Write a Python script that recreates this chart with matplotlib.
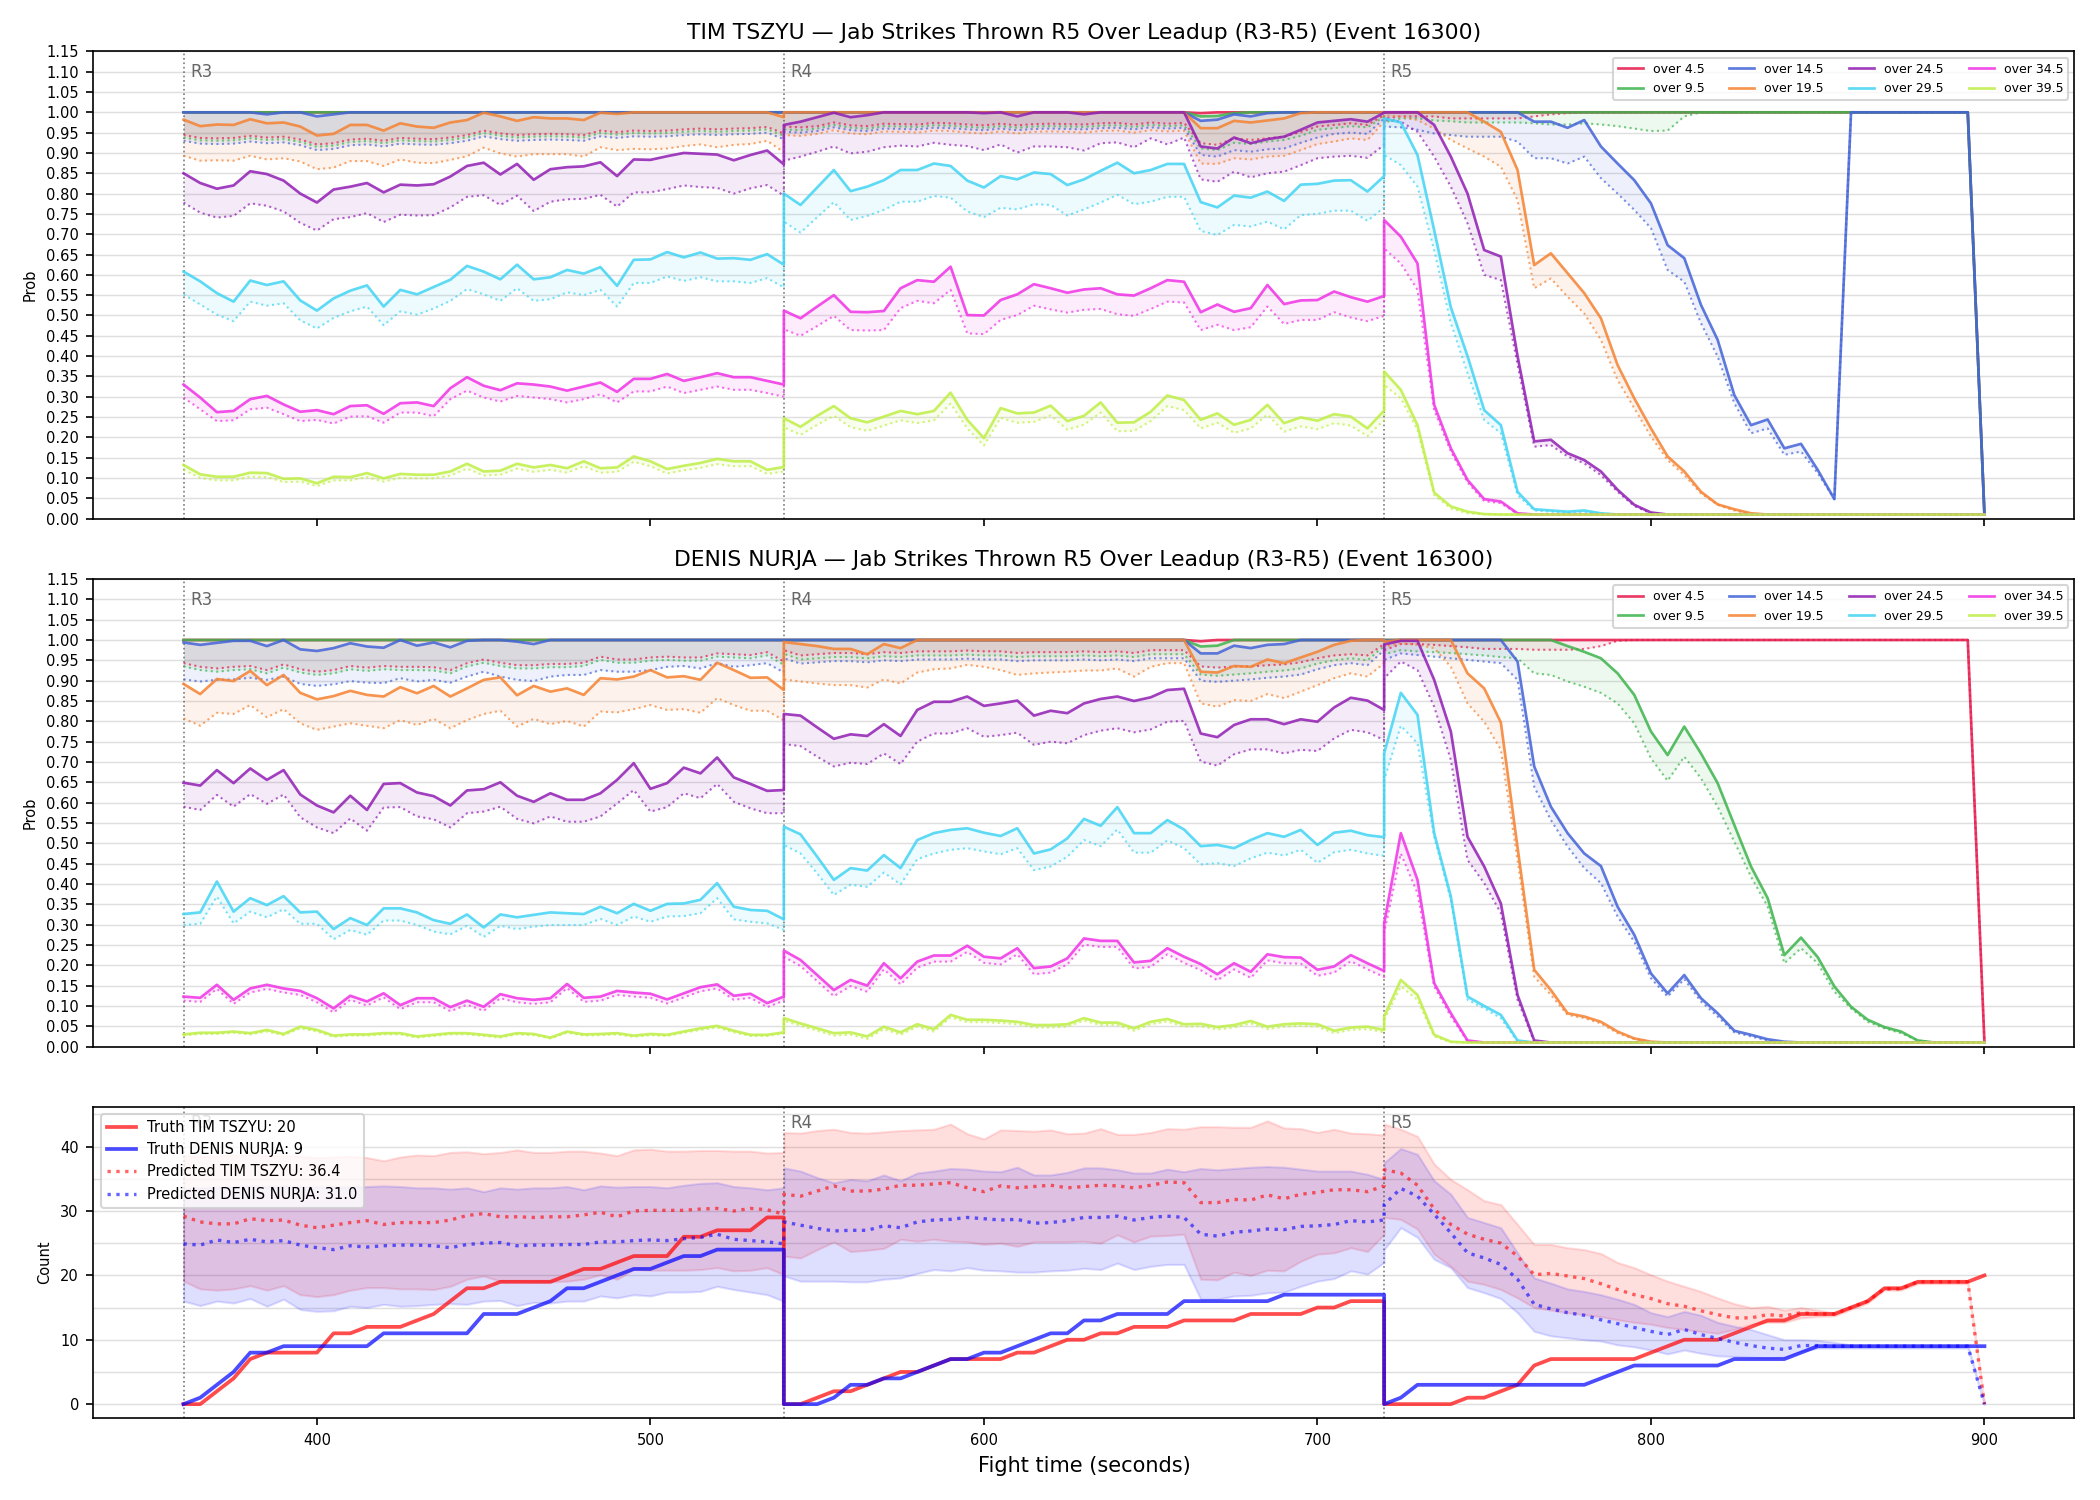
import numpy as np
import matplotlib
matplotlib.use("Agg")
import matplotlib.pyplot as plt
from matplotlib.transforms import blended_transform_factory
from matplotlib.ticker import MultipleLocator, FormatStrFormatter

# ---------------- time grid (3 rounds, 5 s steps, 37 points each) ----------------
round_starts = [360, 540, 720]
round_names = ["R3", "R4", "R5"]
round_offsets = list(range(0, 181, 5))
times = np.concatenate([np.array(round_offsets) + s for s in round_starts])

threshold_labels = ["over 4.5", "over 9.5", "over 14.5", "over 19.5",
                    "over 24.5", "over 29.5", "over 34.5", "over 39.5"]
threshold_colors = ["#e6194b", "#3cb44b", "#4363d8", "#f58231",
                    "#911eb4", "#42d4f4", "#f032e6", "#bfef45"]

# ================= TIM TSZYU (solid = live, dotted = base) =================
tszyu_o45_live = [
    1,1,1,1,1,1,1,1,1,1, 1,1,1,1,1,1,1,1,1,1, 1,1,1,1,1,1,1,1,1,1, 1,1,1,1,1,1,1,
    1,1,1,1,1,1,1,1,1,1, 1,1,1,1,1,1,1,1,1,1, 1,1,1,1,1, 0.998, 1,1,1,1,1,1,1,1,1,1,1,
    1,1,1,1,1,1,1,1,1,1, 1,1,1,1,1,1,1,1,1,1, 1,1,1,1,1,1,1,1,1,1, 1,1,1,1,1,1, 0.01]
tszyu_o45_base = [
    0.944,0.937,0.936,0.937,0.942,0.938,0.94,0.933,0.921,0.924,0.933,0.935,0.93,0.937,0.935,0.934,0.938,0.944,0.955,0.948,0.944,0.946,0.947,0.946,0.944,0.955,0.951,0.955,0.954,0.955,0.958,0.96,0.958,0.96,0.961,0.964,0.948,
    0.965,0.963,0.966,0.975,0.968,0.966,0.972,0.971,0.97,0.974,0.973,0.97,0.968,0.972,0.968,0.971,0.972,0.971,0.97,0.973,0.974,0.97,0.975,0.972,0.974,0.924,0.92,0.936,0.932,0.936,0.94,0.952,0.965,0.969,0.973,0.969,0.993,
    0.985,0.99,0.99,0.99,0.985,0.985,0.985,0.985,0.985,0.99,0.995,0.998, 1,1,1,1,1,1,1,1,1,1, 1,1,1,1,1,1,1,1,1,1, 1,1,1,1, 0.01]
tszyu_o95_live = [
    1,1,1,1,1,1,1,1,1,1, 1,1,1,1,1,1,1,1,1,1, 1,1,1,1,1,1,1,1,1,1, 1,1,1,1,1,1,1,
    1,1,1,1,1,1,1,1,1,1, 1,1,1,1,1,1,1,1,1,1, 1,1,1,1,1, 0.99,0.991,0.998, 1,1,1,1,1,1,1,1,1,
    1,1,1,1,1,1,1,1,1,1, 1,1,1,1,1,1,1,1,1,1, 1,1,1,1,1,1,1,1,1,1, 1,1,1,1,1,1, 0.01]
tszyu_o95_base = [
    0.938,0.931,0.93,0.931,0.936,0.932,0.934,0.927,0.915,0.918,0.927,0.929,0.924,0.931,0.929,0.928,0.932,0.938,0.949,0.942,0.938,0.94,0.941,0.94,0.938,0.949,0.945,0.949,0.948,0.949,0.952,0.954,0.952,0.954,0.955,0.958,0.942,
    0.958,0.956,0.96,0.969,0.962,0.96,0.966,0.965,0.964,0.968,0.967,0.964,0.962,0.966,0.962,0.965,0.966,0.965,0.964,0.967,0.968,0.964,0.969,0.966,0.968,0.911,0.907,0.925,0.922,0.928,0.932,0.942,0.957,0.961,0.966,0.963,0.989,
    0.975,0.985,0.985,0.98,0.978,0.975,0.975,0.975,0.975,0.973,0.97,0.97,0.973,0.97,0.966,0.96,0.954,0.955,0.99, 1,1,1,1,1,1,1,1,1,1, 1,1,1,1,1,1,1, 0.01]
tszyu_o145_live = [
    1,1,1,1,1,0.995,1,1,0.99,0.995, 1,1,1,1,1,1,1,1,1,1, 1,1,1,1,1,1,1,1,1,1, 1,1,1,1,1,1,1,
    1,1,1,1,1,1,1,1,1,1, 1,1,1,1,1,1,1,1,1,1, 1,1,1,1,1, 0.979,0.982,0.995,0.99,0.998, 1,1,1,1,1,1,1,
    1,1,1,1,1,1,1,1,1, 0.977,0.977,0.962,0.981,0.916,0.874,0.833,0.776,0.673,0.641,0.526,0.44,0.304,0.23,0.244,0.173,0.184,0.12,0.048, 1,1,1,1,1,1,1,1, 0.01]
tszyu_o145_base = [
    0.93,0.923,0.922,0.923,0.928,0.924,0.926,0.919,0.907,0.91,0.919,0.921,0.916,0.923,0.921,0.92,0.924,0.93,0.941,0.934,0.93,0.932,0.933,0.932,0.93,0.941,0.937,0.941,0.94,0.941,0.944,0.946,0.944,0.946,0.947,0.95,0.934,
    0.952,0.95,0.954,0.963,0.956,0.954,0.96,0.959,0.958,0.962,0.961,0.958,0.956,0.96,0.956,0.959,0.96,0.959,0.958,0.961,0.962,0.958,0.963,0.96,0.962,0.895,0.891,0.907,0.903,0.909,0.911,0.925,0.938,0.947,0.95,0.947,0.985,
    0.965,0.963,0.957,0.948,0.944,0.94,0.94,0.94,0.928,0.887,0.887,0.874,0.891,0.838,0.80,0.76,0.715,0.612,0.583,0.481,0.399,0.284,0.21,0.222,0.157,0.165,0.112,0.048, 1,1,1,1,1,1,1,1, 0.01]
tszyu_o195_live = [
    0.982,0.966,0.97,0.969,0.983,0.973,0.975,0.965,0.943,0.947,0.969,0.969,0.955,0.973,0.965,0.962,0.975,0.981,0.999,0.99,0.979,0.988,0.985,0.985,0.981,0.999,0.996, 1,1,1,1,1,1,1,1,1, 0.988,
    1,1,1,1,1,1,1,1,1,1, 1,1,1,1,1,1,1,1,1,1, 1,1,1,1,1, 0.961,0.961,0.979,0.975,0.98,0.985,0.998, 1,1,1,1,1,
    1,1,1,1,1,1, 0.977,0.952,0.858,0.624,0.653,0.604,0.555,0.493,0.378,0.296,0.222,0.153,0.116,0.066,0.035,0.023,0.013,
    0.01,0.01,0.01,0.01,0.01,0.01,0.01,0.01,0.01,0.01, 0.01,0.01,0.01,0.01]
tszyu_o195_base = [
    0.893,0.881,0.882,0.881,0.893,0.884,0.887,0.879,0.86,0.864,0.88,0.88,0.868,0.884,0.876,0.875,0.883,0.892,0.913,0.899,0.891,0.897,0.897,0.897,0.891,0.914,0.907,0.91,0.909,0.911,0.917,0.921,0.914,0.92,0.922,0.93,0.902,
    0.944,0.942,0.947,0.956,0.948,0.946,0.953,0.952,0.95,0.955,0.954,0.95,0.948,0.953,0.948,0.952,0.953,0.952,0.95,0.954,0.955,0.95,0.956,0.953,0.955,0.874,0.873,0.887,0.884,0.891,0.893,0.907,0.922,0.928,0.936,0.932,0.977,
    0.993,0.989,0.981,0.96,0.932,0.911,0.891,0.866,0.784,0.567,0.591,0.546,0.505,0.44,0.341,0.272,0.202,0.144,0.107,0.062,0.034,0.02,0.011,
    0.01,0.01,0.01,0.01,0.01,0.01,0.01,0.01,0.01,0.01, 0.01,0.01,0.01,0.01]
tszyu_o245_live = [
    0.85,0.826,0.812,0.82,0.855,0.848,0.832,0.80,0.778,0.81,0.817,0.826,0.803,0.822,0.82,0.823,0.842,0.868,0.876,0.847,0.873,0.834,0.86,0.865,0.867,0.877,0.843,0.884,0.883,0.892,0.90,0.898,0.896,0.882,0.895,0.906,0.872,
    0.969,0.977,0.988,0.999,0.988,0.993,1,1,1,1,1,1,0.998,1,0.99,1,1,1,0.995,1,1,1,1,1,1,0.916,0.911,0.938,0.924,0.934,0.94,0.957,0.975,0.979,0.983,0.977,0.999,
    1,1,1,0.969,0.891,0.80,0.661,0.645,0.40,0.19,0.194,0.161,0.144,0.116,0.071,0.034,0.015,
    0.01,0.01,0.01,0.01,0.01,0.01,0.01,0.01,0.01,0.01, 0.01,0.01,0.01,0.01,0.01,0.01,0.01,0.01,0.01,0.01]
tszyu_o245_base = [
    0.778,0.753,0.741,0.745,0.776,0.77,0.756,0.728,0.709,0.737,0.742,0.752,0.73,0.748,0.746,0.747,0.766,0.792,0.796,0.772,0.795,0.757,0.78,0.786,0.787,0.797,0.768,0.803,0.803,0.811,0.82,0.816,0.814,0.80,0.813,0.821,0.795,
    0.881,0.891,0.903,0.916,0.899,0.903,0.914,0.918,0.916,0.925,0.92,0.917,0.907,0.921,0.901,0.916,0.916,0.914,0.906,0.924,0.926,0.914,0.936,0.921,0.938,0.835,0.829,0.854,0.84,0.85,0.854,0.87,0.887,0.891,0.893,0.888,0.92,
    0.981,0.977,0.952,0.891,0.817,0.727,0.60,0.587,0.38,0.177,0.181,0.153,0.136,0.107,0.066,0.031,0.013,
    0.01,0.01,0.01,0.01,0.01,0.01,0.01,0.01,0.01,0.01, 0.01,0.01,0.01,0.01,0.01,0.01,0.01,0.01,0.01,0.01]
tszyu_o295_live = [
    0.608,0.584,0.555,0.534,0.586,0.575,0.584,0.537,0.512,0.542,0.561,0.574,0.522,0.563,0.552,0.57,0.588,0.622,0.608,0.589,0.625,0.589,0.594,0.612,0.603,0.619,0.573,0.637,0.638,0.656,0.643,0.655,0.64,0.641,0.637,0.651,0.625,
    0.80,0.772,0.815,0.858,0.806,0.817,0.833,0.858,0.858,0.874,0.868,0.832,0.815,0.843,0.835,0.852,0.848,0.821,0.835,0.856,0.876,0.85,0.858,0.873,0.873,0.779,0.766,0.795,0.79,0.805,0.782,0.822,0.824,0.832,0.833,0.805,0.843,
    0.985,0.975,0.895,0.71,0.52,0.40,0.267,0.23,0.066,0.023,0.02,0.017,0.02,0.013,
    0.01,0.01,0.01,0.01,0.01,0.01,0.01,0.01,0.01,0.01, 0.01,0.01,0.01,0.01,0.01,0.01,0.01,0.01,0.01,0.01, 0.01,0.01,0.01]
tszyu_o295_base = [
    0.552,0.527,0.502,0.486,0.534,0.524,0.53,0.488,0.468,0.494,0.51,0.522,0.476,0.51,0.502,0.517,0.536,0.565,0.552,0.536,0.567,0.536,0.54,0.557,0.55,0.563,0.522,0.58,0.58,0.596,0.585,0.594,0.584,0.584,0.58,0.592,0.569,
    0.731,0.704,0.742,0.779,0.735,0.745,0.76,0.78,0.78,0.794,0.79,0.756,0.742,0.765,0.761,0.774,0.772,0.746,0.761,0.778,0.797,0.774,0.78,0.792,0.792,0.708,0.698,0.723,0.719,0.731,0.712,0.747,0.75,0.758,0.758,0.733,0.766,
    0.895,0.87,0.817,0.661,0.481,0.358,0.243,0.21,0.058,0.02,0.017,0.015,0.016,0.012,
    0.01,0.01,0.01,0.01,0.01,0.01,0.01,0.01,0.01,0.01, 0.01,0.01,0.01,0.01,0.01,0.01,0.01,0.01,0.01,0.01, 0.01,0.01,0.01]
tszyu_o345_live = [
    0.33,0.298,0.262,0.265,0.294,0.302,0.281,0.263,0.267,0.257,0.277,0.279,0.258,0.284,0.286,0.277,0.321,0.348,0.327,0.316,0.333,0.33,0.325,0.315,0.325,0.335,0.312,0.344,0.344,0.356,0.339,0.348,0.358,0.348,0.348,0.339,0.33,
    0.512,0.493,0.522,0.55,0.509,0.508,0.511,0.567,0.587,0.583,0.62,0.501,0.50,0.538,0.552,0.577,0.567,0.556,0.564,0.567,0.552,0.549,0.567,0.587,0.583,0.508,0.527,0.509,0.518,0.575,0.528,0.537,0.538,0.559,0.545,0.534,0.548,
    0.735,0.694,0.628,0.28,0.173,0.095,0.048,0.042,0.013,
    0.01,0.01,0.01,0.01,0.01,0.01,0.01,0.01,0.01,0.01, 0.01,0.01,0.01,0.01,0.01,0.01,0.01,0.01,0.01,0.01, 0.01,0.01,0.01,0.01,0.01,0.01,0.01,0.01]
tszyu_o345_base = [
    0.298,0.269,0.24,0.242,0.269,0.273,0.257,0.24,0.243,0.234,0.251,0.252,0.236,0.261,0.261,0.252,0.294,0.315,0.298,0.288,0.302,0.298,0.294,0.286,0.294,0.306,0.286,0.313,0.313,0.325,0.309,0.317,0.325,0.317,0.317,0.309,0.30,
    0.466,0.45,0.474,0.499,0.464,0.463,0.464,0.518,0.536,0.53,0.563,0.456,0.454,0.489,0.501,0.524,0.515,0.507,0.514,0.516,0.503,0.499,0.516,0.534,0.532,0.464,0.477,0.464,0.471,0.522,0.479,0.489,0.489,0.508,0.495,0.486,0.499,
    0.665,0.628,0.563,0.267,0.165,0.089,0.043,0.038,0.011,
    0.01,0.01,0.01,0.01,0.01,0.01,0.01,0.01,0.01,0.01, 0.01,0.01,0.01,0.01,0.01,0.01,0.01,0.01,0.01,0.01, 0.01,0.01,0.01,0.01,0.01,0.01,0.01,0.01]
tszyu_o395_live = [
    0.132,0.109,0.103,0.103,0.113,0.112,0.098,0.099,0.087,0.103,0.102,0.112,0.099,0.11,0.108,0.108,0.116,0.135,0.116,0.118,0.135,0.126,0.132,0.124,0.141,0.124,0.126,0.153,0.141,0.122,0.13,0.137,0.147,0.141,0.141,0.12,0.127,
    0.247,0.226,0.253,0.277,0.247,0.237,0.251,0.265,0.257,0.265,0.31,0.243,0.198,0.272,0.259,0.261,0.278,0.24,0.253,0.286,0.236,0.237,0.263,0.303,0.292,0.243,0.259,0.231,0.243,0.28,0.235,0.249,0.241,0.257,0.251,0.222,0.266,
    0.362,0.317,0.23,0.064,0.03,0.017,0.011,
    0.01,0.01,0.01,0.01,0.01,0.01,0.01,0.01,0.01,0.01, 0.01,0.01,0.01,0.01,0.01,0.01,0.01,0.01,0.01,0.01, 0.01,0.01,0.01,0.01,0.01,0.01,0.01,0.01,0.01,0.01]
tszyu_o395_base = [
    0.12,0.1,0.094,0.094,0.103,0.102,0.09,0.091,0.08,0.094,0.094,0.102,0.091,0.1,0.099,0.099,0.106,0.123,0.106,0.108,0.123,0.115,0.12,0.113,0.129,0.113,0.115,0.14,0.129,0.111,0.119,0.125,0.134,0.129,0.129,0.11,0.116,
    0.225,0.206,0.231,0.253,0.225,0.216,0.229,0.242,0.235,0.242,0.283,0.222,0.18,0.248,0.236,0.238,0.254,0.219,0.231,0.261,0.215,0.216,0.24,0.277,0.267,0.222,0.236,0.211,0.222,0.256,0.214,0.227,0.22,0.235,0.229,0.203,0.243,
    0.329,0.296,0.218,0.058,0.025,0.013,0.011,
    0.01,0.01,0.01,0.01,0.01,0.01,0.01,0.01,0.01,0.01, 0.01,0.01,0.01,0.01,0.01,0.01,0.01,0.01,0.01,0.01, 0.01,0.01,0.01,0.01,0.01,0.01,0.01,0.01,0.01,0.01]

# ================= DENIS NURJA =================
nurja_o45_live = [
    1,1,1,1,1,1,1,1,1,1, 1,1,1,1,1,1,1,1,1,1, 1,1,1,1,1,1,1,1,1,1, 1,1,1,1,1,1,1,
    1,1,1,1,1,1,1,1,1,1, 1,1,1,1,1,1,1,1,1,1, 1,1,1,1,1, 0.997, 1,1,1,1,1,1,1,1,1,1,1,
    1,1,1,1,1,1,1,1,1,1, 1,1,1,1,1,1,1,1,1,1, 1,1,1,1,1,1,1,1,1,1, 1,1,1,1,1,1, 0.01]
nurja_o45_base = [
    0.943,0.934,0.93,0.934,0.936,0.926,0.94,0.928,0.922,0.926,0.936,0.932,0.936,0.934,0.934,0.933,0.926,0.943,0.952,0.944,0.938,0.938,0.941,0.941,0.944,0.959,0.952,0.952,0.957,0.959,0.957,0.957,0.967,0.965,0.963,0.97,0.947,
    0.975,0.962,0.965,0.968,0.968,0.965,0.97,0.968,0.972,0.972,0.972,0.974,0.972,0.972,0.968,0.97,0.97,0.97,0.972,0.97,0.972,0.968,0.975,0.975,0.975,0.935,0.932,0.935,0.935,0.938,0.94,0.945,0.955,0.962,0.965,0.962,0.99,
    0.975,0.99,0.99,0.988,0.985,0.982,0.978,0.978,0.978,0.976,0.976,0.976,0.978,0.985,0.998, 1,1,1,1,1,1,1,1,1,1, 1,1,1,1,1,1,1,1,1,1, 1, 0.01]
nurja_o95_live = [
    1,1,1,1,1,1,1,1,1,1, 1,1,1,1,1,1,1,1,1,1, 1,1,1,1,1,1,1,1,1,1, 1,1,1,1,1,1,1,
    1,1,1,1,1,1,1,1,1,1, 1,1,1,1,1,1,1,1,1,1, 1,1,1,1,1, 0.984,0.986, 1,1,1,1,1,1,1,1,1,1,
    1,1,1,1,1,1,1,1,1,1,1, 0.985,0.971,0.955,0.918,0.865,0.775,0.717,0.787,0.721,0.648,0.545,0.443,0.365,0.225,0.268,0.22,0.148,0.098,0.066,0.048,0.037,0.015, 0.01,0.01,0.01,0.01]
nurja_o95_base = [
    0.935,0.926,0.922,0.926,0.928,0.918,0.932,0.92,0.914,0.918,0.928,0.924,0.928,0.926,0.926,0.925,0.918,0.935,0.944,0.936,0.93,0.93,0.933,0.933,0.936,0.951,0.944,0.944,0.949,0.951,0.949,0.949,0.959,0.957,0.955,0.962,0.939,
    0.966,0.952,0.955,0.958,0.958,0.955,0.96,0.958,0.962,0.962,0.962,0.964,0.962,0.962,0.958,0.96,0.96,0.96,0.962,0.96,0.962,0.958,0.965,0.965,0.965,0.915,0.912,0.915,0.918,0.922,0.925,0.93,0.942,0.95,0.955,0.95,0.985,
    0.965,0.975,0.972,0.97,0.968,0.965,0.962,0.958,0.955,0.918,0.914,0.898,0.885,0.87,0.844,0.795,0.709,0.654,0.713,0.66,0.59,0.504,0.418,0.344,0.205,0.242,0.205,0.135,0.094,0.061,0.045,0.033,0.015, 0.01,0.01,0.01,0.01]
nurja_o145_live = [
    0.994,0.988,0.993,0.998,0.998,0.985,1,0.977,0.973,0.98,0.992,0.984,0.981,1,0.986,0.994,0.982,0.998,1,1,0.996,0.99, 1,1,1,1,1,1,1,1,1,1, 1,1,1,1,1,
    1,1,1,1,1,1,1,1,1,1, 1,1,1,1,1,1,1,1,1,1, 1,1,1,1,1, 0.967,0.967,0.986,0.98,0.988,0.99, 1,1,1,1,1,1,
    0.998, 1,1,1,1,1,1,1, 0.947,0.689,0.59,0.525,0.475,0.444,0.344,0.275,0.18,0.131,0.176,0.119,0.082,0.039,0.029,0.018,0.012,
    0.01,0.01,0.01,0.01,0.01,0.01,0.01,0.01,0.01,0.01, 0.01,0.01]
nurja_o145_base = [
    0.903,0.898,0.902,0.903,0.907,0.902,0.91,0.892,0.887,0.891,0.899,0.895,0.894,0.906,0.898,0.902,0.895,0.91,0.922,0.91,0.902,0.899,0.91,0.914,0.914,0.926,0.922,0.922,0.926,0.934,0.936,0.93,0.943,0.934,0.938,0.943,0.92,
    0.955,0.942,0.945,0.948,0.948,0.945,0.95,0.948,0.952,0.952,0.952,0.954,0.952,0.952,0.948,0.95,0.95,0.95,0.952,0.95,0.952,0.948,0.955,0.955,0.955,0.9,0.897,0.9,0.903,0.907,0.91,0.915,0.928,0.938,0.943,0.938,0.975,
    0.951,0.967,0.963,0.959,0.955,0.951,0.947,0.943,0.902,0.639,0.557,0.492,0.439,0.402,0.32,0.258,0.168,0.123,0.166,0.111,0.074,0.035,0.025,0.015,
    0.01,0.01,0.01,0.01,0.01,0.01,0.01,0.01,0.01,0.01, 0.01,0.01,0.01]
nurja_o195_live = [
    0.892,0.867,0.904,0.899,0.924,0.889,0.914,0.87,0.854,0.862,0.875,0.865,0.861,0.884,0.869,0.887,0.861,0.881,0.902,0.908,0.864,0.887,0.873,0.881,0.865,0.906,0.903,0.91,0.926,0.908,0.911,0.902,0.944,0.926,0.907,0.908,0.877,
    0.995,0.99,0.985,0.978,0.978,0.965,0.99,0.98, 1,1,1,1,1,1,1,1,1,1, 1,1,1,1,1,1,1, 0.922,0.92,0.936,0.934,0.952,0.943,0.957,0.971,0.988,0.998,1,1,
    0.996,1,1,1,1,0.918,0.881,0.797,0.49,0.189,0.139,0.082,0.074,0.061,0.037,0.02,0.012,
    0.01,0.01,0.01,0.01,0.01,0.01,0.01,0.01,0.01,0.01, 0.01,0.01,0.01,0.01,0.01,0.01,0.01,0.01,0.01,0.01]
nurja_o195_base = [
    0.807,0.789,0.821,0.818,0.84,0.81,0.83,0.795,0.779,0.787,0.795,0.789,0.783,0.803,0.791,0.806,0.783,0.803,0.818,0.826,0.787,0.806,0.793,0.801,0.787,0.824,0.822,0.83,0.84,0.828,0.83,0.821,0.857,0.84,0.826,0.826,0.802,
    0.903,0.898,0.893,0.889,0.889,0.883,0.903,0.893,0.92,0.928,0.93,0.939,0.934,0.926,0.914,0.918,0.92,0.922,0.925,0.925,0.93,0.91,0.934,0.943,0.943,0.844,0.836,0.852,0.85,0.867,0.857,0.873,0.889,0.906,0.918,0.91,0.943,
    0.984,0.992,0.988,0.98,0.934,0.844,0.799,0.73,0.459,0.172,0.127,0.078,0.07,0.057,0.033,0.019,0.011,
    0.01,0.01,0.01,0.01,0.01,0.01,0.01,0.01,0.01,0.01, 0.01,0.01,0.01,0.01,0.01,0.01,0.01,0.01,0.01,0.01]
nurja_o245_live = [
    0.649,0.642,0.68,0.648,0.684,0.656,0.68,0.62,0.593,0.576,0.617,0.582,0.646,0.648,0.625,0.616,0.593,0.63,0.633,0.65,0.617,0.602,0.623,0.607,0.607,0.623,0.656,0.697,0.634,0.648,0.686,0.672,0.711,0.662,0.646,0.629,0.631,
    0.818,0.814,0.785,0.757,0.768,0.764,0.793,0.764,0.828,0.848,0.848,0.861,0.838,0.844,0.851,0.814,0.826,0.82,0.844,0.855,0.861,0.85,0.859,0.877,0.88,0.77,0.761,0.791,0.805,0.805,0.793,0.805,0.799,0.834,0.858,0.851,0.828,
    0.989,0.998,0.998,0.902,0.775,0.516,0.443,0.352,0.127,0.015,
    0.01,0.01,0.01,0.01,0.01,0.01,0.01,0.01,0.01,0.01, 0.01,0.01,0.01,0.01,0.01,0.01,0.01,0.01,0.01,0.01, 0.01,0.01,0.01,0.01,0.01,0.01,0.01]
nurja_o245_base = [
    0.59,0.582,0.619,0.59,0.621,0.597,0.62,0.564,0.539,0.525,0.561,0.531,0.588,0.589,0.566,0.559,0.539,0.574,0.578,0.59,0.56,0.549,0.566,0.553,0.553,0.566,0.598,0.631,0.578,0.589,0.623,0.611,0.646,0.602,0.586,0.574,0.574,
    0.744,0.739,0.713,0.689,0.698,0.695,0.721,0.695,0.75,0.77,0.77,0.783,0.762,0.766,0.772,0.742,0.75,0.746,0.766,0.777,0.783,0.773,0.78,0.799,0.801,0.701,0.691,0.719,0.731,0.731,0.721,0.73,0.727,0.758,0.779,0.773,0.754,
    0.906,0.947,0.926,0.836,0.705,0.459,0.402,0.328,0.115,0.012,
    0.01,0.01,0.01,0.01,0.01,0.01,0.01,0.01,0.01,0.01, 0.01,0.01,0.01,0.01,0.01,0.01,0.01,0.01,0.01,0.01, 0.01,0.01,0.01,0.01,0.01,0.01,0.01]
nurja_o295_live = [
    0.326,0.33,0.406,0.332,0.365,0.348,0.37,0.33,0.332,0.289,0.316,0.299,0.34,0.34,0.33,0.311,0.302,0.325,0.293,0.325,0.318,0.324,0.33,0.328,0.326,0.344,0.328,0.351,0.334,0.351,0.352,0.361,0.402,0.344,0.336,0.334,0.313,
    0.541,0.522,0.467,0.41,0.439,0.433,0.471,0.439,0.508,0.525,0.533,0.537,0.526,0.518,0.537,0.475,0.485,0.512,0.56,0.543,0.589,0.525,0.525,0.557,0.534,0.493,0.496,0.488,0.508,0.525,0.516,0.533,0.496,0.526,0.531,0.52,0.515,
    0.721,0.87,0.816,0.525,0.369,0.123,0.10,0.078,0.015,
    0.01,0.01,0.01,0.01,0.01,0.01,0.01,0.01,0.01,0.01, 0.01,0.01,0.01,0.01,0.01,0.01,0.01,0.01,0.01,0.01, 0.01,0.01,0.01,0.01,0.01,0.01,0.01,0.01]
nurja_o295_base = [
    0.299,0.302,0.369,0.303,0.332,0.318,0.338,0.302,0.302,0.264,0.287,0.275,0.31,0.31,0.299,0.283,0.276,0.297,0.27,0.297,0.289,0.295,0.299,0.299,0.299,0.314,0.299,0.32,0.307,0.32,0.321,0.328,0.365,0.313,0.307,0.303,0.287,
    0.496,0.475,0.426,0.373,0.398,0.393,0.428,0.399,0.461,0.475,0.484,0.488,0.48,0.473,0.488,0.434,0.443,0.467,0.508,0.493,0.534,0.477,0.477,0.507,0.488,0.448,0.451,0.444,0.463,0.477,0.47,0.484,0.452,0.478,0.484,0.475,0.469,
    0.656,0.789,0.746,0.516,0.361,0.115,0.094,0.07,0.012,
    0.01,0.01,0.01,0.01,0.01,0.01,0.01,0.01,0.01,0.01, 0.01,0.01,0.01,0.01,0.01,0.01,0.01,0.01,0.01,0.01, 0.01,0.01,0.01,0.01,0.01,0.01,0.01,0.01]
nurja_o345_live = [
    0.123,0.12,0.152,0.115,0.143,0.152,0.143,0.137,0.119,0.094,0.125,0.111,0.131,0.102,0.119,0.119,0.097,0.113,0.098,0.129,0.119,0.115,0.119,0.154,0.12,0.123,0.137,0.133,0.13,0.116,0.131,0.146,0.153,0.125,0.13,0.107,0.123,
    0.236,0.213,0.176,0.139,0.164,0.15,0.205,0.168,0.209,0.224,0.224,0.248,0.221,0.217,0.242,0.193,0.197,0.217,0.266,0.26,0.26,0.207,0.211,0.242,0.221,0.203,0.178,0.205,0.184,0.227,0.22,0.219,0.189,0.197,0.225,0.205,0.186,
    0.303,0.525,0.41,0.156,0.082,0.015,
    0.01,0.01,0.01,0.01,0.01,0.01,0.01,0.01,0.01,0.01, 0.01,0.01,0.01,0.01,0.01,0.01,0.01,0.01,0.01,0.01, 0.01,0.01,0.01,0.01,0.01,0.01,0.01,0.01,0.01,0.01, 0.01]
nurja_o345_base = [
    0.113,0.11,0.142,0.105,0.133,0.142,0.133,0.127,0.109,0.084,0.115,0.101,0.121,0.092,0.109,0.109,0.087,0.103,0.088,0.119,0.109,0.105,0.109,0.144,0.11,0.113,0.127,0.123,0.12,0.106,0.121,0.136,0.143,0.115,0.12,0.097,0.113,
    0.221,0.198,0.161,0.124,0.149,0.135,0.19,0.153,0.194,0.209,0.209,0.233,0.206,0.202,0.227,0.178,0.182,0.202,0.251,0.245,0.245,0.192,0.196,0.227,0.206,0.188,0.163,0.19,0.169,0.212,0.205,0.204,0.174,0.182,0.21,0.19,0.171,
    0.279,0.475,0.377,0.148,0.074,0.013,
    0.01,0.01,0.01,0.01,0.01,0.01,0.01,0.01,0.01,0.01, 0.01,0.01,0.01,0.01,0.01,0.01,0.01,0.01,0.01,0.01, 0.01,0.01,0.01,0.01,0.01,0.01,0.01,0.01,0.01,0.01, 0.01]
nurja_o395_live = [
    0.03,0.034,0.034,0.037,0.033,0.041,0.031,0.049,0.041,0.027,0.03,0.03,0.033,0.033,0.025,0.029,0.033,0.033,0.029,0.025,0.033,0.031,0.022,0.037,0.03,0.031,0.033,0.027,0.031,0.029,0.037,0.045,0.051,0.039,0.029,0.029,0.035,
    0.07,0.057,0.045,0.033,0.035,0.025,0.049,0.035,0.055,0.043,0.078,0.066,0.066,0.064,0.061,0.053,0.053,0.055,0.07,0.059,0.059,0.045,0.061,0.068,0.055,0.056,0.048,0.053,0.063,0.049,0.055,0.057,0.055,0.039,0.047,0.049,0.041,
    0.074,0.164,0.127,0.029,0.012,
    0.01,0.01,0.01,0.01,0.01,0.01,0.01,0.01,0.01,0.01, 0.01,0.01,0.01,0.01,0.01,0.01,0.01,0.01,0.01,0.01, 0.01,0.01,0.01,0.01,0.01,0.01,0.01,0.01,0.01,0.01, 0.01,0.01]
nurja_o395_base = [
    0.027,0.031,0.031,0.034,0.03,0.037,0.028,0.045,0.037,0.024,0.027,0.027,0.03,0.03,0.022,0.026,0.03,0.03,0.026,0.022,0.03,0.028,0.02,0.034,0.027,0.028,0.03,0.024,0.028,0.026,0.034,0.041,0.047,0.035,0.026,0.026,0.032,
    0.064,0.051,0.039,0.027,0.029,0.019,0.043,0.029,0.049,0.037,0.072,0.06,0.06,0.058,0.055,0.047,0.047,0.049,0.064,0.053,0.053,0.039,0.055,0.062,0.049,0.05,0.042,0.047,0.057,0.043,0.049,0.051,0.049,0.033,0.041,0.043,0.035,
    0.066,0.148,0.115,0.025,0.011,
    0.01,0.01,0.01,0.01,0.01,0.01,0.01,0.01,0.01,0.01, 0.01,0.01,0.01,0.01,0.01,0.01,0.01,0.01,0.01,0.01, 0.01,0.01,0.01,0.01,0.01,0.01,0.01,0.01,0.01,0.01, 0.01,0.01]

# ================= cumulative counts (bottom panel) =================
truth_tszyu = [
    0,0,2,4,7,8,8,8,8,11,11,12,12,12,13,14,16,18,18,19,19,19,19,20,21,21,22,23,23,23,26,26,27,27,27,29,29,
    0,0,1,2,2,3,4,5,5,6,7,7,7,7,8,8,9,10,10,11,11,12,12,12,13,13,13,13,14,14,14,14,15,15,16,16,16,
    0,0,0,0,0,1,1,2,3,6,7,7,7,7,7,7,8,9,10,10,10,11,12,13,13,14,14,14,15,16,18,18,19,19,19,19,20]
truth_nurja = [
    0,1,3,5,8,8,9,9,9,9,9,9,11,11,11,11,11,11,14,14,14,15,16,18,18,19,20,21,21,22,23,23,24,24,24,24,24,
    0,0,0,1,3,3,4,4,5,6,7,7,8,8,9,10,11,11,13,13,14,14,14,14,16,16,16,16,16,16,17,17,17,17,17,17,17,
    0,1,3,3,3,3,3,3,3,3,3,3,3,4,5,6,6,6,6,6,6,7,7,7,7,8,9,9,9,9,9,9,9,9,9,9,9]
pred_tszyu = [
    29.2,28.3,28.0,28.0,28.8,28.5,28.6,27.8,27.4,27.8,28.2,28.5,27.9,28.2,28.2,28.2,28.6,29.3,29.6,29.1,29.1,29.0,29.1,29.1,29.4,29.8,29.1,30.0,30.1,30.1,30.1,30.3,30.4,30.0,30.4,30.2,29.5,
    32.6,32.3,33.1,33.9,33.1,33.1,33.4,34.0,34.0,34.2,34.4,33.6,33.0,33.9,33.6,33.8,34.0,33.6,33.8,34.0,33.9,33.6,34.0,34.5,34.4,31.3,31.3,31.8,31.7,32.5,31.9,32.6,32.9,33.3,33.3,33.0,33.9,
    36.4,35.9,34.0,30.3,27.9,26.4,25.6,25.0,23.0,20.1,20.3,19.9,19.5,18.7,17.8,17.0,16.4,15.6,15.2,14.5,13.9,13.4,13.4,13.9,13.7,14.2,14.0,14.0,15.0,16.0,17.9,17.9,19.0,19.0,19.0,19.0,0]
pred_nurja = [
    24.9,24.7,25.5,25.1,25.6,25.2,25.4,24.7,24.3,24.0,24.6,24.4,24.6,24.7,24.7,24.6,24.3,24.8,25.0,25.1,24.6,24.7,24.7,24.8,24.8,25.2,25.2,25.4,25.5,25.4,25.7,25.9,26.4,25.6,25.4,25.2,24.9,
    28.3,27.8,27.3,26.9,27.0,27.0,27.7,27.4,28.3,28.6,28.7,29.0,28.8,28.6,28.7,28.1,28.2,28.5,29.0,29.0,29.2,28.6,29.0,29.2,29.0,26.4,26.1,26.7,26.9,27.2,27.1,27.6,27.7,27.9,28.5,28.3,28.6,
    31.0,33.5,32.3,29.5,26.6,23.5,22.7,21.7,19.4,15.5,14.8,14.2,13.8,13.1,12.5,11.9,11.3,10.8,11.6,10.8,10.2,9.6,9.1,8.7,8.5,9.1,9.1,9.0,9.0,9.0,9.0,9.0,9.0,9.0,9.0,9.0,0]
band_tszyu_hi = [
    38.6,38.5,38.6,38.7,38.8,38.6,38.7,38.5,38.3,38.4,38.5,38.3,37.8,38.4,38.7,38.6,39.1,39.2,38.9,39.1,39.5,39.1,39.1,39.3,39.3,39.0,38.6,39.5,39.6,39.3,39.3,39.4,39.4,39.3,39.3,39.0,39.1,
    42.2,42.1,42.5,42.7,42.2,42.1,42.3,42.5,42.6,42.7,43.5,42.0,41.2,42.6,42.5,42.4,42.6,42.0,42.1,42.8,41.9,41.9,42.2,42.8,42.7,43.1,43.1,43.0,43.0,44.0,42.9,42.8,42.2,42.7,42.1,42.0,41.8,
    43.5,42.7,41.6,37.3,34.9,33.3,31.6,31.0,27.9,24.8,24.8,24.3,24.0,23.4,22.0,21.2,20.1,19.1,18.3,17.5,16.5,15.6,15.0,15.2,14.6,15.0,14.6,14.2,15.2,16.1,18.1,18.1,19.1,19.1,19.1,19.1,0]
band_tszyu_lo = [
    19.1,17.9,17.7,17.9,18.4,17.7,18.4,17.0,16.7,17.0,17.7,18.1,18.1,17.9,17.9,17.8,18.3,19.4,19.9,19.1,19.1,19.0,19.0,19.1,19.4,20.1,19.4,20.9,20.8,20.8,20.8,20.9,21.2,20.7,20.8,21.2,20.1,
    23.0,22.7,24.0,25.2,23.7,23.9,24.2,25.6,25.3,25.6,25.3,25.2,24.8,25.0,24.5,25.2,25.2,25.2,25.3,25.0,26.3,25.2,26.1,26.2,26.4,19.4,19.3,20.5,20.0,20.8,20.7,22.2,23.3,23.5,24.3,23.7,26.4,
    29.0,28.7,27.2,23.3,21.4,19.1,18.6,17.8,16.5,15.0,14.6,14.2,13.9,13.6,13.1,12.7,12.4,11.9,11.6,11.3,11.0,11.6,12.4,12.7,12.7,13.4,13.6,13.7,14.7,15.7,17.7,17.7,18.7,18.7,18.7,18.7,0]
band_nurja_hi = [
    33.4,33.6,33.7,33.8,33.9,33.8,33.9,33.8,33.7,33.8,33.7,33.8,33.9,33.8,33.6,33.6,33.4,33.6,33.0,33.6,33.4,33.6,33.6,33.8,33.3,33.9,33.7,33.8,33.8,33.6,34.0,34.3,34.4,33.8,33.6,33.3,33.6,
    36.7,36.2,35.2,34.4,34.9,34.7,35.6,34.7,35.9,36.2,36.6,36.5,36.2,36.1,36.8,35.6,35.6,36.0,36.7,36.7,36.4,35.9,35.9,36.5,36.1,36.6,36.4,36.6,36.8,36.9,36.8,36.5,36.2,36.2,36.2,35.7,34.9,
    37.5,39.7,38.8,34.7,32.6,29.0,28.2,27.4,23.5,19.6,18.8,17.9,17.5,17.0,16.3,15.5,14.2,13.6,14.4,13.8,12.7,12.1,11.6,10.8,10.0,10.0,9.9,9.6,9.2,9.2,9.2,9.2,9.2,9.2,9.2,9.2,0]
band_nurja_lo = [
    16.0,15.3,16.0,15.7,16.4,15.2,16.3,14.7,14.4,14.5,15.2,15.0,15.5,15.2,15.3,15.5,15.6,15.5,16.0,16.1,15.3,15.8,15.7,16.0,16.0,16.8,16.5,17.0,16.8,17.4,17.4,17.5,18.3,17.8,17.4,17.0,16.0,
    19.9,19.1,19.1,19.1,19.0,19.0,19.4,19.6,20.3,20.9,20.7,21.2,20.8,20.7,20.5,20.5,20.7,20.8,21.1,20.9,21.9,20.9,21.4,21.7,21.7,16.3,16.3,16.8,16.9,17.3,17.4,18.3,19.1,19.5,20.7,20.2,22.0,
    24.0,27.4,25.9,22.5,21.2,18.1,17.3,16.4,14.2,11.3,10.6,10.3,10.0,9.8,9.2,8.9,8.4,7.8,8.4,7.9,7.5,7.4,7.3,7.2,7.3,8.2,8.7,8.7,8.7,8.7,8.7,8.7,8.7,8.7,8.7,8.7,0]

# ---------------- sanity check on lengths ----------------
_all = {k: v for k, v in list(globals().items())
        if (k.startswith("tszyu_") or k.startswith("nurja_") or k.startswith("truth_")
            or k.startswith("pred_") or k.startswith("band_")) and isinstance(v, list)}
_bad = {k: len(v) for k, v in _all.items() if len(v) != len(times)}
if _bad:
    raise SystemExit("bad lengths: %s" % _bad)

tszyu_live = [tszyu_o45_live, tszyu_o95_live, tszyu_o145_live, tszyu_o195_live,
              tszyu_o245_live, tszyu_o295_live, tszyu_o345_live, tszyu_o395_live]
tszyu_base = [tszyu_o45_base, tszyu_o95_base, tszyu_o145_base, tszyu_o195_base,
              tszyu_o245_base, tszyu_o295_base, tszyu_o345_base, tszyu_o395_base]
nurja_live = [nurja_o45_live, nurja_o95_live, nurja_o145_live, nurja_o195_live,
              nurja_o245_live, nurja_o295_live, nurja_o345_live, nurja_o395_live]
nurja_base = [nurja_o45_base, nurja_o95_base, nurja_o145_base, nurja_o195_base,
              nurja_o245_base, nurja_o295_base, nurja_o345_base, nurja_o395_base]

# ---------------- figure ----------------
plt.rcParams["font.family"] = ["DejaVu Sans"]
fig = plt.figure(figsize=(14, 10), dpi=150)
L, W = 0.04452, 0.94333
ax1 = fig.add_axes([L, 0.65427, W, 0.31147])
ax2 = fig.add_axes([L, 0.30227, W, 0.31173], sharex=ax1)
ax3 = fig.add_axes([L, 0.05447, W, 0.20773], sharex=ax1)


def round_markers(ax):
    tr = blended_transform_factory(ax.transData, ax.transAxes)
    for rs, rn in zip(round_starts, round_names):
        ax.axvline(rs, color="#444444", ls=":", lw=0.8, alpha=0.7, zorder=1)
        ax.text(rs + 2, 0.975, rn, transform=tr, color="#666666", fontsize=8,
                ha="left", va="top")


def prob_panel(ax, live, base, title):
    for lab, col, lv, bs in zip(threshold_labels, threshold_colors, live, base):
        ax.fill_between(times, lv, bs, color=col, alpha=0.09, linewidth=0)
        ax.plot(times, lv, color=col, lw=1.3, alpha=0.85, label=lab)
        ax.plot(times, bs, color=col, lw=1.0, ls=":", alpha=0.7)
    ax.set_ylim(0, 1.15)
    ax.set_yticks(np.arange(0, 1.1501, 0.05))
    ax.yaxis.set_major_formatter(FormatStrFormatter("%.2f"))
    ax.grid(axis="y", color="#b0b0b0", alpha=0.4, lw=0.7)
    ax.set_axisbelow(True)
    ax.set_ylabel("Prob", fontsize=7)
    ax.set_title(title, fontsize=10.5)
    ax.tick_params(labelsize=7, labelbottom=False)
    round_markers(ax)
    ax.legend(loc="upper right", ncol=4, fontsize=6, framealpha=0.8)


prob_panel(ax1, tszyu_live, tszyu_base,
           "TIM TSZYU \u2014 Jab Strikes Thrown R5 Over Leadup (R3-R5) (Event 16300)")
prob_panel(ax2, nurja_live, nurja_base,
           "DENIS NURJA \u2014 Jab Strikes Thrown R5 Over Leadup (R3-R5) (Event 16300)")

# bottom panel
r5_start = 2 * len(round_offsets)
ax3.fill_between(times, band_tszyu_lo, band_tszyu_hi, color="red", alpha=0.13)
ax3.fill_between(times, band_nurja_lo, band_nurja_hi, color="blue", alpha=0.13)
ax3.plot(times, truth_tszyu, color="red", lw=1.8, alpha=0.7,
         label="Truth TIM TSZYU: %d" % truth_tszyu[-1])
ax3.plot(times, truth_nurja, color="blue", lw=1.8, alpha=0.7,
         label="Truth DENIS NURJA: %d" % truth_nurja[-1])
ax3.plot(times, pred_tszyu, color="red", lw=1.6, ls=":", alpha=0.6,
         label="Predicted TIM TSZYU: %.1f" % pred_tszyu[r5_start])
ax3.plot(times, pred_nurja, color="blue", lw=1.6, ls=":", alpha=0.6,
         label="Predicted DENIS NURJA: %.1f" % pred_nurja[r5_start])
ax3.yaxis.set_major_locator(MultipleLocator(10))
ax3.yaxis.set_minor_locator(MultipleLocator(5))
ax3.grid(axis="y", which="both", color="#b0b0b0", alpha=0.4, lw=0.7)
ax3.set_axisbelow(True)
ax3.set_ylabel("Count", fontsize=7)
ax3.set_xlabel("Fight time (seconds)", fontsize=10)
ax3.tick_params(labelsize=7)
ax3.tick_params(axis="y", which="minor", length=0)
round_markers(ax3)
ax3.legend(loc="upper left", fontsize=7, framealpha=0.8)

ax1.set_xticks([400, 500, 600, 700, 800, 900])

fig.savefig("out.png", dpi=150)
